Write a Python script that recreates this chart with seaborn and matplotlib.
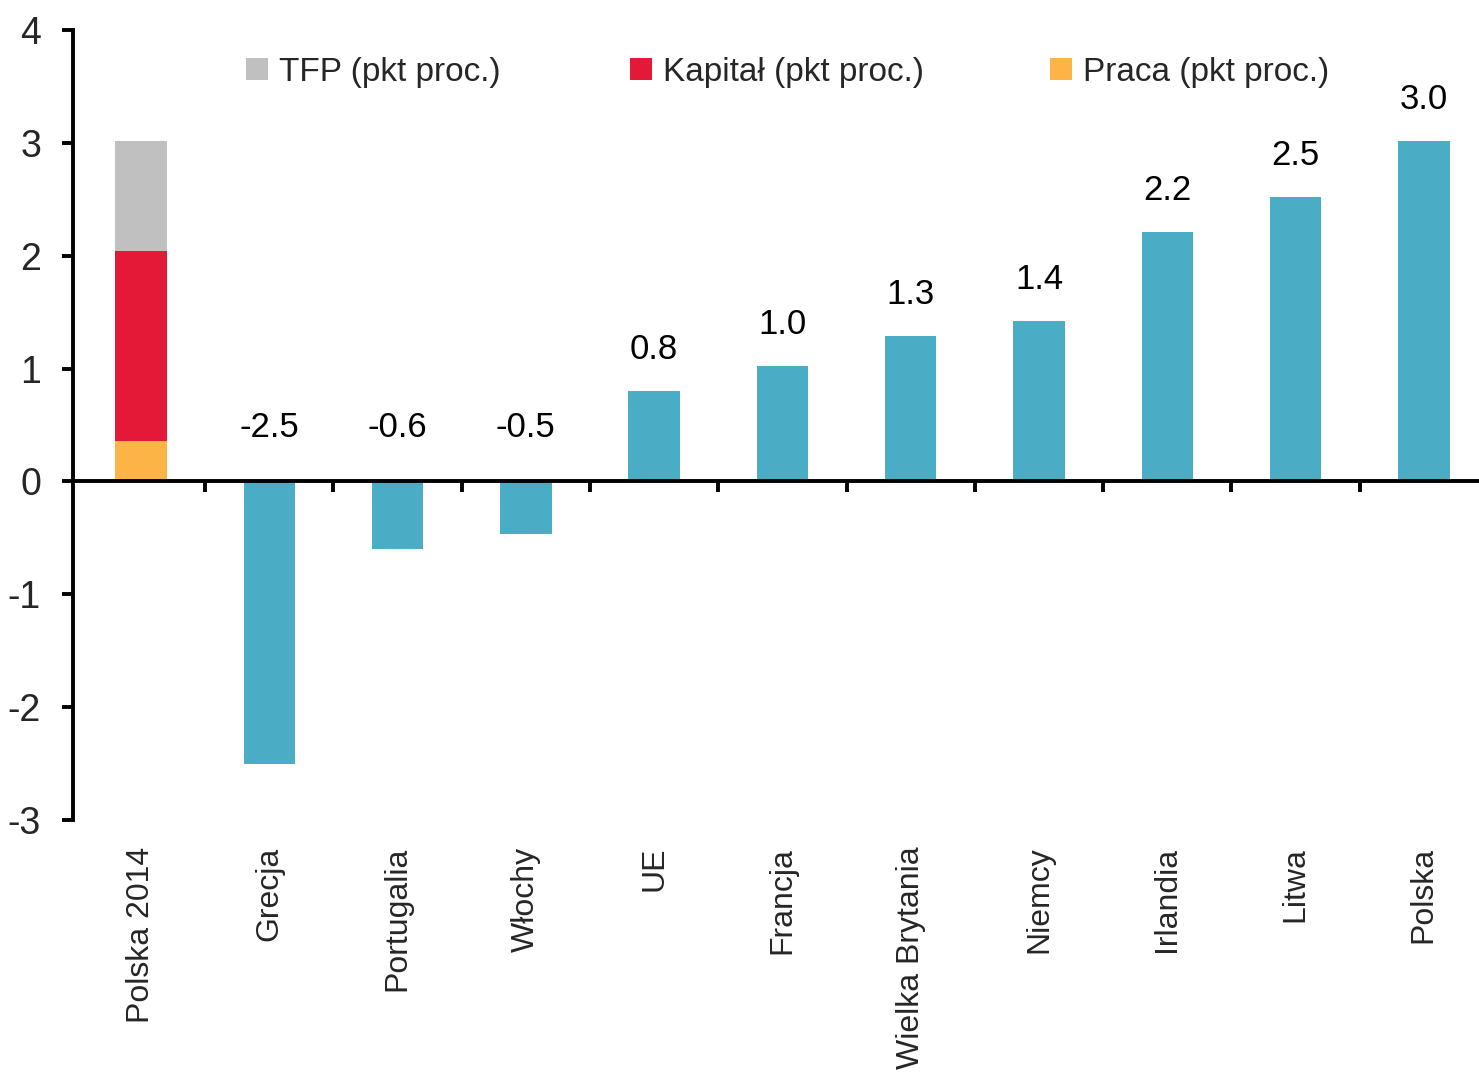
import matplotlib
matplotlib.use("Agg")
import matplotlib.pyplot as plt
import seaborn as sns
import pandas as pd
from matplotlib.patches import Patch

categories = ["Polska 2014", "Grecja", "Portugalia", "Włochy", "UE", "Francja",
              "Wielka Brytania", "Niemcy", "Irlandia", "Litwa", "Polska"]
country_names = ["Grecja", "Portugalia", "Włochy", "UE", "Francja",
                 "Wielka Brytania", "Niemcy", "Irlandia", "Litwa", "Polska"]
country_values = [-2.5, -0.6, -0.47, 0.8, 1.02, 1.29, 1.42, 2.21, 2.52, 3.02]
labels_text = ["-2.5", "-0.6", "-0.5", "0.8", "1.0", "1.3", "1.4", "2.2", "2.5", "3.0"]

stack_category = "Polska 2014"
praca = 0.36
kapital = 1.68
tfp = 0.98
legend_labels = ["TFP (pkt proc.)", "Kapitał (pkt proc.)", "Praca (pkt proc.)"]

C_TEAL = "#4BACC6"
C_GRAY = "#C0C0C0"
C_RED = "#E31937"
C_ORANGE = "#FDB447"

sns.set_theme(style="white")
plt.rcParams["font.family"] = ["Liberation Sans Narrow", "Liberation Sans", "DejaVu Sans"]

fig = plt.figure(figsize=(14.79, 10.75), dpi=100)
ax = fig.add_axes([73 / 1479, 255 / 1075, 1415 / 1479, 790 / 1075])

df = pd.DataFrame({"kraj": country_names, "wartosc": country_values})
sns.barplot(data=df, x="kraj", y="wartosc", order=categories, color=C_TEAL,
            width=0.4, linewidth=0, saturation=1, ax=ax)

# stacked bar (drawn as cumulative overlays)
stack_df = pd.DataFrame({
    "kraj": [stack_category] * 3,
    "poziom": ["tfp", "kapital", "praca"],
    "wartosc": [praca + kapital + tfp, praca + kapital, praca],
})
for lvl, col in zip(["tfp", "kapital", "praca"], [C_GRAY, C_RED, C_ORANGE]):
    sns.barplot(data=stack_df[stack_df["poziom"] == lvl], x="kraj", y="wartosc",
                order=categories, color=col, width=0.4, linewidth=0,
                saturation=1, ax=ax)

# value labels
for name, v, t in zip(country_names, country_values, labels_text):
    i = categories.index(name)
    y = 0.33 if v < 0 else v + 0.22
    ax.text(i, y, t, ha="center", va="bottom", fontsize=25, color="black")

ax.set_xlim(-0.53, 10.5)
ax.set_ylim(-3, 4)
ax.set_xlabel("")
ax.set_ylabel("")

# spines
for s in ["top", "right"]:
    ax.spines[s].set_visible(False)
ax.spines["left"].set_linewidth(2.8)
ax.spines["left"].set_color("black")
ax.spines["bottom"].set_position(("data", 0))
ax.spines["bottom"].set_linewidth(2.8)
ax.spines["bottom"].set_color("black")

ax.set_yticks(range(-3, 5))
ax.set_yticklabels([str(v) for v in range(-3, 5)])
ax.tick_params(axis="y", direction="out", length=8, width=2.8, color="black",
               labelsize=27, pad=15, left=True)

ax.set_xticks(range(len(categories)))
ax.set_xticklabels(categories, rotation=90, va="top", ha="center")
ax.set_xticks([i + 0.5 for i in range(len(categories) - 1)], minor=True)
ax.tick_params(axis="x", which="major", length=0, labelsize=23, pad=263)
ax.tick_params(axis="x", which="minor", direction="out", length=8, width=2.8,
               color="black", bottom=True)

legend_colors = [C_GRAY, C_RED, C_ORANGE]
legend_x = [246, 630, 1050]
for lab, col, lx in zip(legend_labels, legend_colors, legend_x):
    leg = fig.legend([Patch(facecolor=col, edgecolor="none")], [lab],
                     loc="center left", bbox_to_anchor=(lx / 1479, 1 - 72 / 1075),
                     frameon=False, fontsize=24, handlelength=0.65, handleheight=0.65,
                     handletextpad=0.35, borderaxespad=0, borderpad=0)

fig.savefig("out.png", dpi=100)
